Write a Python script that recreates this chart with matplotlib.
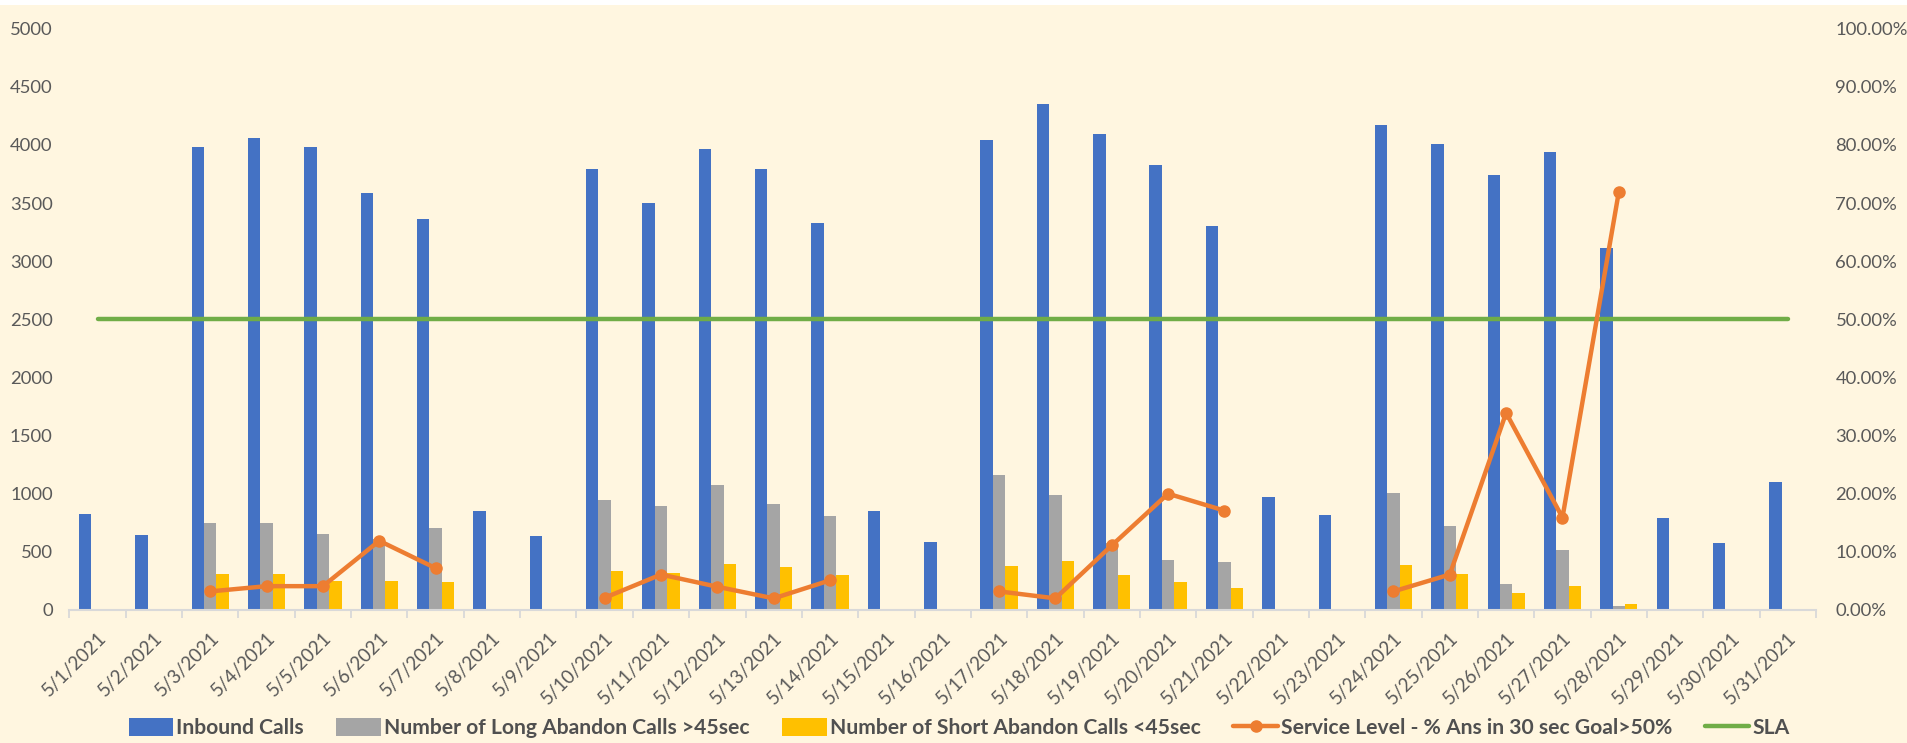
import numpy as np
import matplotlib
matplotlib.use("Agg")
import matplotlib.pyplot as plt
from matplotlib.patches import Rectangle
from matplotlib.ticker import FuncFormatter, MultipleLocator, FixedLocator

plt.rcParams['font.family'] = ['Lato', 'DejaVu Sans']

# === daily call data, May 2021 ===
dates = [f"5/{d}/2021" for d in range(1, 32)]

inbound_calls = [825, 642, 3979, 4063, 3979, 3586, 3361, 853, 635, 3789,
                 3502, 3968, 3789, 3326, 853, 582, 4039, 4351, 4095, 3825,
                 3302, 972, 814, 4168, 4004, 3744, 3937, 3109, 789, 572, 1102]

long_abandon = [0, 0, 747, 747, 653, 610, 702, 0, 0, 947,
                895, 1077, 912, 807, 0, 0, 1161, 989, 580, 432,
                414, 0, 0, 1007, 719, 225, 519, 32, 0, 0, 0]

short_abandon = [0, 0, 312, 312, 253, 253, 242, 0, 0, 337,
                 319, 396, 372, 302, 0, 0, 379, 425, 302, 242,
                 189, 0, 0, 389, 312, 147, 204, 53, 0, 0, 0]

nan = np.nan
service_level = [nan, nan, 0.032, 0.041, 0.041, 0.119, 0.072, nan, nan, 0.021,
                 0.061, 0.040, 0.020, 0.051, nan, nan, 0.032, 0.020, 0.111, 0.200,
                 0.171, nan, nan, 0.032, 0.061, 0.339, 0.159, 0.719, nan, nan, nan]

sla = [0.5] * 31

# === colours ===
bg = '#FFF6E0'
c_blue = '#4472C4'
c_gray = '#A5A5A5'
c_yellow = '#FFC000'
c_orange = '#ED7D31'
c_green = '#70AD47'
c_text = '#595959'
c_axis = '#D9D9D9'

fig = plt.figure(figsize=(19.07, 7.43), dpi=100, facecolor=bg)
fig.patches.append(Rectangle((0, 1 - 5 / 743), 1, 5 / 743, transform=fig.transFigure,
                             facecolor='white', edgecolor='none', zorder=0))

ax = fig.add_axes([69.4 / 1907, 1 - 610 / 743, (1816 - 69.4) / 1907, (610 - 28.6) / 743])
ax.set_facecolor(bg)
ax2 = ax.twinx()

x = np.arange(len(dates))
w = 0.22
ax.bar(x - w, inbound_calls, w, color=c_blue, label='Inbound Calls', zorder=2)
ax.bar(x, long_abandon, w, color=c_gray, label='Number of Long Abandon Calls >45sec', zorder=2)
ax.bar(x + w, short_abandon, w, color=c_yellow, label='Number of Short Abandon Calls <45sec', zorder=2)

ax2.plot(x, sla, color=c_green, lw=3.2, solid_capstyle='round', label='SLA', zorder=3)
ax2.plot(x, service_level, color=c_orange, lw=3.2, marker='o', ms=8,
         solid_capstyle='round', label='Service Level - % Ans in 30 sec Goal>50%', zorder=4)

ax.set_xlim(-0.5, len(dates) - 0.5)
ax.set_ylim(0, 5000)
ax2.set_ylim(0, 1)
ax.yaxis.set_major_locator(MultipleLocator(500))
ax2.yaxis.set_major_locator(MultipleLocator(0.1))
ax2.yaxis.set_major_formatter(FuncFormatter(lambda v, p: f"{v * 100:.2f}%"))

ax.set_xticks(x)
ax.set_xticklabels(dates, rotation=45, ha='right', va='top', rotation_mode='anchor')
ax.xaxis.set_minor_locator(FixedLocator(np.arange(-0.5, len(dates), 1.0)))
ax.tick_params(axis='x', which='major', length=0, pad=14, labelsize=13.5, labelcolor=c_text)
ax.tick_params(axis='x', which='minor', length=6, width=1.3, color=c_axis)
ax.tick_params(axis='y', length=0, pad=12, labelsize=13.3, labelcolor=c_text)
ax2.tick_params(axis='y', length=0, pad=14, labelsize=13.3, labelcolor=c_text)
for t in ax2.get_yticklabels():
    t.set_horizontalalignment('left')

for a in (ax, ax2):
    for s in a.spines.values():
        s.set_visible(False)
ax.spines['bottom'].set_visible(True)
ax.spines['bottom'].set_color(c_axis)
ax.spines['bottom'].set_linewidth(1.5)

# legend: bars first, then service level, then SLA
h1, l1 = ax.get_legend_handles_labels()
h2, l2 = ax2.get_legend_handles_labels()
handles = h1 + [h2[1], h2[0]]
labels = l1 + [l2[1], l2[0]]
leg = fig.legend(handles, labels, loc='center', bbox_to_anchor=(0.503, 1 - 728 / 743),
                 ncol=5, frameon=False, handlelength=2.1, handleheight=0.9,
                 columnspacing=1.55, handletextpad=0.15,
                 prop={'size': 15.2, 'weight': 'bold'})
for t in leg.get_texts():
    t.set_color('#505050')

fig.savefig('out.png', dpi=100, facecolor=bg)
